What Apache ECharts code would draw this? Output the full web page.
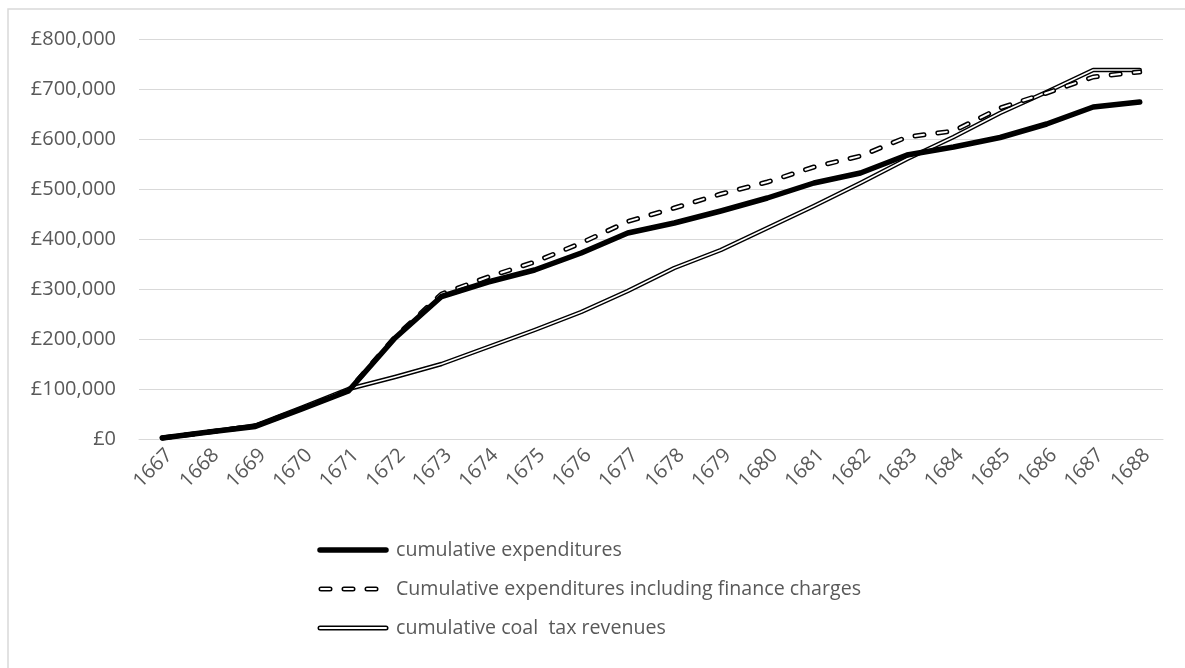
<!DOCTYPE html>
<html>
<head>
<meta charset="utf-8">
<script src="https://cdn.jsdelivr.net/npm/echarts@6/dist/echarts.min.js"></script>
<style>
  html, body { margin: 0; padding: 0; background: #fff; }
  main { width: 1185px; height: 668px; }
</style>
</head>
<body>
<main></main>
<script>
  const years = [
    '1667', '1668', '1669', '1670', '1671', '1672', '1673', '1674', '1675', '1676', '1677',
    '1678', '1679', '1680', '1681', '1682', '1683', '1684', '1685', '1686', '1687', '1688',
  ]
  const expenditures = [
    2000, 14000, 25000, 60000, 96000, 202000, 285000, 314000, 338000, 372000, 412000,
    432000, 456000, 482000, 512000, 532000, 568000, 584000, 603000, 630000, 664000, 674000,
  ]
  const withFinance = [
    2000, 14000, 26000, 61000, 97000, 204000, 290000, 324000, 354000, 392000, 435000,
    462000, 490000, 514000, 544000, 566000, 604000, 616000, 662000, 692000, 724000, 734000,
  ]
  const coalTax = [
    2000, 14000, 27000, 63000, 100000, 124000, 150000, 184000, 218000, 254000, 296000,
    342000, 378000, 422000, 466000, 512000, 560000, 604000, 652000, 694000, 738000, 738000,
  ]
  const legendNames = [
    'cumulative expenditures',
    'Cumulative expenditures including finance charges',
    'cumulative coal  tax revenues',
  ]

  const font = "'Open Sans', sans-serif"
  const textColor = '#595959'
  const gridColor = '#d9d9d9'

  function line(name, data, color, width, dash, z) {
    return {
      name,
      type: 'line',
      data,
      z,
      symbol: 'none',
      silent: true,
      lineStyle: { color, width, type: dash || 'solid', cap: 'round', join: 'round' },
    }
  }

  const dash = [9, 14]

  // legend drawn by hand: thick line, double dashed, double solid
  const legendX = 318
  const legendY = [550, 589, 628]
  const legendGraphics = []
  legendGraphics.push({
    type: 'line', shape: { x1: legendX + 2, y1: legendY[0], x2: legendX + 68, y2: legendY[0] },
    style: { stroke: '#000', lineWidth: 5.5, lineCap: 'round' },
  })
  legendGraphics.push({
    type: 'line', shape: { x1: legendX + 3, y1: legendY[1], x2: legendX + 66, y2: legendY[1] },
    style: { stroke: '#000', lineWidth: 5, lineCap: 'round', lineDash: [9, 14] },
  })
  legendGraphics.push({
    type: 'line', shape: { x1: legendX + 3, y1: legendY[1], x2: legendX + 66, y2: legendY[1] },
    style: { stroke: '#fff', lineWidth: 2, lineCap: 'round', lineDash: [9, 14] }, z: 101,
  })
  legendGraphics.push({
    type: 'line', shape: { x1: legendX + 2, y1: legendY[2], x2: legendX + 68, y2: legendY[2] },
    style: { stroke: '#000', lineWidth: 5, lineCap: 'round' },
  })
  legendGraphics.push({
    type: 'line', shape: { x1: legendX + 2, y1: legendY[2], x2: legendX + 68, y2: legendY[2] },
    style: { stroke: '#fff', lineWidth: 2, lineCap: 'round' }, z: 101,
  })
  for (let i = 0; i < legendNames.length; i++) {
    legendGraphics.push({
      type: 'text', x: legendX + 78, y: legendY[i],
      style: { text: legendNames[i], font: `19.6px ${font}`, fill: textColor, verticalAlign: 'middle' },
    })
  }

  const chart = echarts.init(document.querySelector('main'), null, { renderer: 'canvas' })
  chart.setOption({
    animation: false,
    backgroundColor: '#fff',
    textStyle: { fontFamily: font },
    grid: { left: 139, right: 22, top: 39, bottom: 229 },
    xAxis: {
      type: 'category',
      data: years,
      boundaryGap: true,
      axisLine: { show: true, lineStyle: { color: gridColor, width: 1 } },
      axisTick: { show: false },
      axisLabel: {
        rotate: 45, color: textColor, fontSize: 20, margin: 6, fontFamily: font,
        verticalAlign: 'top',
      },
    },
    yAxis: {
      type: 'value',
      min: 0,
      max: 800000,
      interval: 100000,
      axisLine: { show: false },
      axisTick: { show: false },
      splitLine: { lineStyle: { color: gridColor, width: 1 } },
      axisLabel: {
        color: textColor,
        fontSize: 20,
        margin: 23,
        fontFamily: font,
        formatter: (v) => '£' + v.toLocaleString('en-GB'),
      },
    },
    graphic: [
      {
        type: 'rect', shape: { x: 8, y: 9, width: 1200, height: 700 },
        style: { fill: 'none', stroke: gridColor, lineWidth: 1.5 }, silent: true,
      },
      { type: 'group', children: legendGraphics },
    ],
    series: [
      line(legendNames[2], coalTax, '#000', 4.5, null, 2),
      line(legendNames[2] + ' inner', coalTax, '#fff', 1.6, null, 3),
      line(legendNames[1], withFinance, '#000', 5, dash, 4),
      line(legendNames[1] + ' inner', withFinance, '#fff', 2, dash, 5),
      line(legendNames[0], expenditures, '#000', 5.5, null, 6),
    ],
  })
</script>
</body>
</html>
